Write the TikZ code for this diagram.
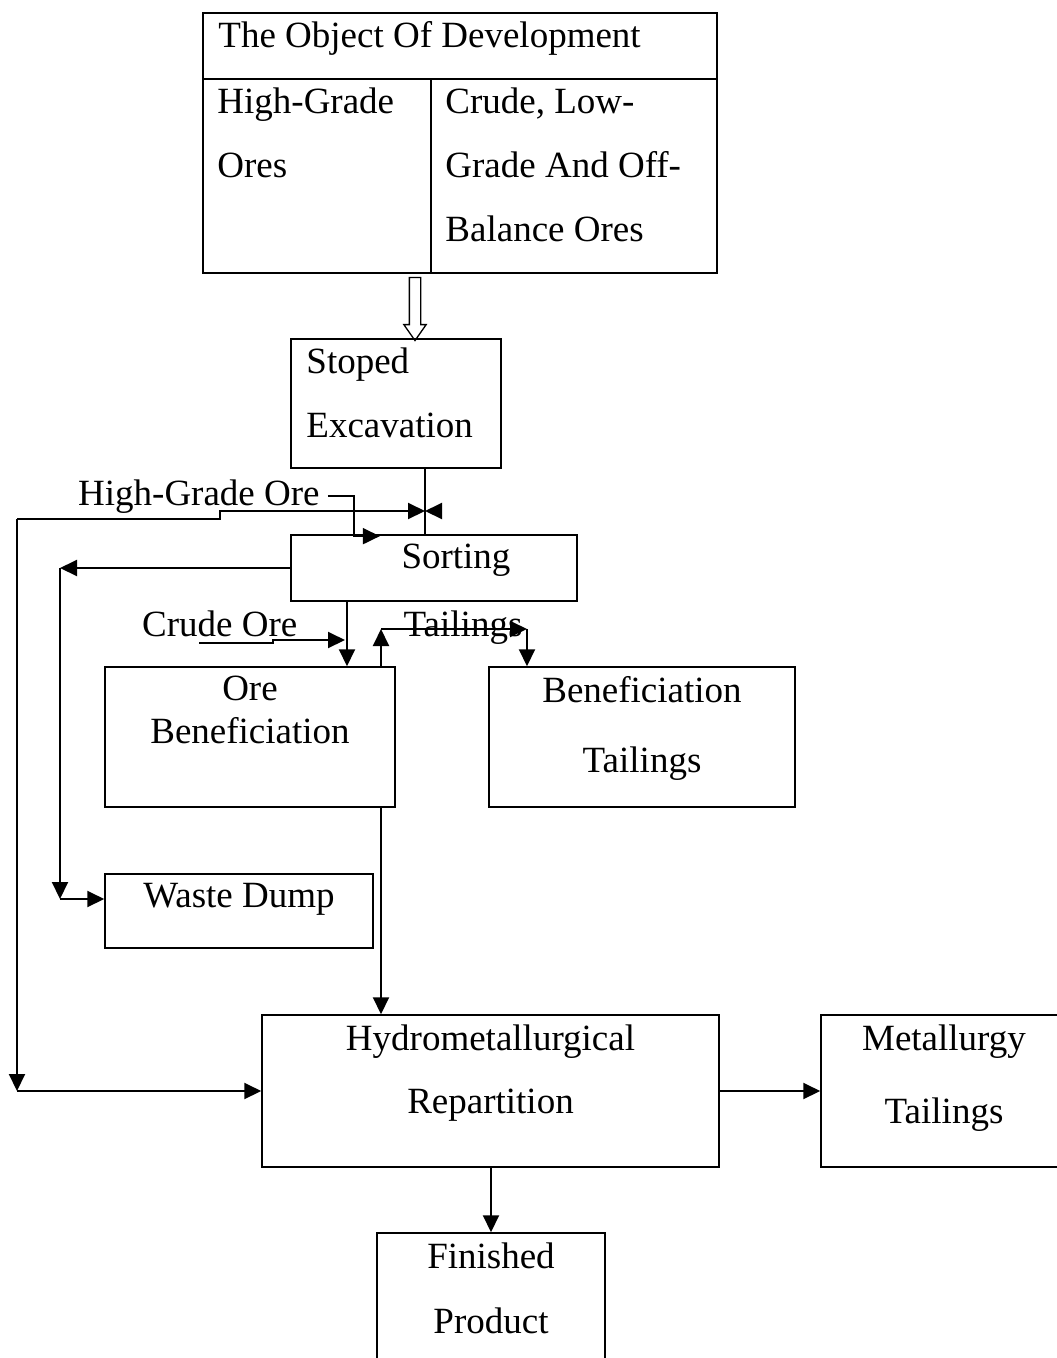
\documentclass[tikz,border=0pt]{standalone}
\usepackage{fontspec}
\setmainfont{Liberation Serif}
\usetikzlibrary{positioning,arrows.meta,shapes.arrows}

\begin{document}
\begin{tikzpicture} [x=1pt, y=-1pt, node distance=10pt, >={Triangle[length=17pt,width=16pt]}, box/.style={rectangle, draw, line width=1.5pt, inner sep=0pt}, lbl/.style={inner sep=0pt, align=center}, flow/.style={line width=2pt}]
\useasboundingbox (0,0) rectangle (1057,1358);
{\fontsize{37}{64}\selectfont
	% boxes
	\node [box, minimum width=514pt, minimum height=66pt] (head) at (460,46) {};
	\node [box, minimum width=228pt, minimum height=194pt] (cellL) at (317,176) {};
	\node [box, minimum width=286pt, minimum height=194pt] (cellR) at (574,176) {};
	\node [box, minimum width=210pt, minimum height=129pt] (stoped) at (396,403.5) {};
	\node [box, minimum width=286pt, minimum height=66pt] (sorting) at (434,568) {};
	\node [box, minimum width=290pt, minimum height=140pt] (orebenef) at (250,737) {};
	\node [box, minimum width=306pt, minimum height=140pt] (bentail) at (642,737) {};
	\node [box, minimum width=268pt, minimum height=74pt] (waste) at (239,911) {};
	\node [box, minimum width=457pt, minimum height=152pt] (hydro) at (490.5,1091) {};
	\node [box, minimum width=246pt, minimum height=152pt] (mettail) at (944,1091) {};
	\node [box, minimum width=228pt, minimum height=157pt] (finished) at (491,1311.5) {};
	\node [single arrow, draw, line width=1.3pt, rotate=-90, minimum height=63pt, minimum width=21pt, inner sep=5pt, single arrow head extend=5.5pt, single arrow tip angle=70] (chute) at (415,305) {};

	% texts
	\node [lbl, below right=9pt and 16pt of head.north west] (head_t) {The Object Of Development};
	\node [lbl, align=left, below right=9pt and 15pt of cellL.north west] (cellL_t) {High-Grade\\Ores};
	\node [lbl, align=left, below right=9pt and 15pt of cellR.north west] (cellR_t) {Crude, Low-\\Grade And Off-\\Balance Ores};
	\node [lbl, align=left, below right=9pt and 16pt of stoped.north west] (stoped_t) {Stoped\\Excavation};
	\node [lbl, below=of sorting.north, xshift=22pt] (sorting_t) {Sorting};
	\node [lbl, below=of orebenef.north, font=\fontsize{37}{43}\selectfont] (orebenef_t) {Ore\\Beneficiation};
	\node [lbl, below=of bentail.north, font=\fontsize{37}{70}\selectfont] (bentail_t) {Beneficiation\\Tailings};
	\node [lbl, below=of waste.north] (waste_t) {Waste Dump};
	\node [lbl, below=of hydro.north, font=\fontsize{37}{63}\selectfont] (hydro_t) {Hydrometallurgical\\Repartition};
	\node [lbl, below=of mettail.north, font=\fontsize{37}{73}\selectfont] (mettail_t) {Metallurgy\\Tailings};
	\node [lbl, below=of finished.north, font=\fontsize{37}{65}\selectfont] (finished_t) {Finished\\Product};
	\node [lbl, anchor=base west] (hgo) at (78,505) {High-Grade Ore};
	\node [lbl, anchor=base west] (crude) at (142,636) {Crude Ore};
	\node [lbl, anchor=base] (tail) at (463,636) {Tailings};

	% junctions
	\coordinate (jn) at (425,511);
	\coordinate (loop) at (17,519);
	\coordinate (wl) at (60,568);
	\coordinate (wd) at ([yshift=12pt]waste.west -| wl);
	\coordinate (crudein) at (199,643);
	\coordinate (tl) at (381,629);
	\coordinate (tr) at (527,629);

	% draw edges
	\draw [flow] (stoped.south -| jn) -- (sorting.north -| jn);
	\draw [flow, ->] ([xshift=8pt]hgo.east) -| ++(26,40) -- ++(26,0);
	\draw [flow, ->] (loop) -- (loop |- hydro.west);
	\draw [flow, ->] (loop |- hydro.west) -- (hydro.west);
	\draw [flow, ->] (loop) -- ++(203,0) -- ++(0,-8) -- (jn);
	\draw [flow, ->] ([xshift=14pt]jn) -- (jn);
	\draw [flow, ->] (sorting.west) -- (wl);
	\draw [flow, ->] (wl) -- (wd);
	\draw [flow, ->] (wd) -- (wd -| waste.west);
	\draw [flow, ->] ([xshift=-87pt]sorting.south) -- ([xshift=-87pt]sorting.south |- orebenef.north);
	\draw [flow, ->] (crudein) -- ++(74,0) -- ++(0,-3) -- ++(72,0);
	\draw [flow, ->] (tl |- orebenef.north) -- (tl);
	\draw [flow, ->] (tl) -- (tr);
	\draw [flow, ->] (tr) -- (tr |- bentail.north);
	\draw [flow, ->] (tl |- orebenef.south) -- (tl |- hydro.north);
	\draw [flow, ->] (hydro.east) -- (mettail.west);
	\draw [flow, ->] (hydro.south -| finished.north) -- (finished.north);
}
\end{tikzpicture}
\end{document}
